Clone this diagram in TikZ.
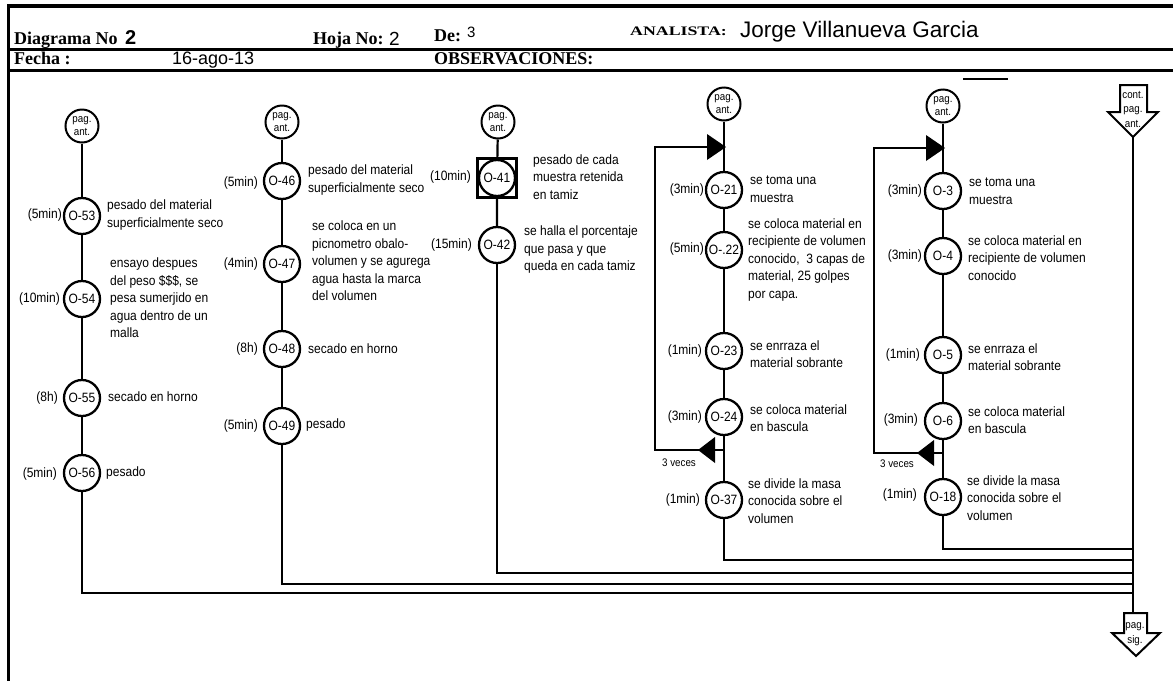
\documentclass[tikz,border=0pt]{standalone}
\usepackage{fontspec}
\setmainfont{Liberation Sans}
\newfontfamily\serifhdr{Liberation Serif}
\newfontfamily\nsans[FakeStretch=0.89]{Liberation Sans}
\begin{document}
\begin{tikzpicture}[x=1pt,y=-1pt,
  flow/.style={line width=2.2pt},
  op/.style={circle,draw,line width=2.3pt,minimum size=36pt,inner sep=0pt,font=\nsans\fontsize{13.5}{13.5}\selectfont},
  pg/.style={circle,draw,line width=2pt,minimum size=33pt,inner sep=0pt,align=center,font=\nsans\fontsize{11}{12.5}\selectfont},
  tm/.style={anchor=east,inner sep=0pt,font=\nsans\fontsize{13.5}{14}\selectfont},
  ds/.style={anchor=west,inner sep=0pt,align=left,font=\nsans\fontsize{13.5}{17.5}\selectfont},
  hd/.style={anchor=base west,inner sep=0pt,font=\serifhdr\bfseries\fontsize{18}{18}\selectfont},
  hv/.style={anchor=base west,inner sep=0pt},
  veces/.style={inner sep=0pt,font=\nsans\fontsize{11}{11}\selectfont},
  tri/.style={fill=black},
  blockarrow/.style={draw,line width=2pt,fill=white,line join=miter},
  btxt/.style={inner sep=0pt,align=center,font=\nsans\fontsize{11}{14.5}\selectfont}]
\useasboundingbox (0,0) rectangle (1173,681);

% ---------- header form ----------
\draw[line width=4pt] (7,5.5) -- (1173,5.5);
\draw[line width=3pt] (8.5,4) -- (8.5,681);
\draw[line width=2.5pt] (8.5,49.5) -- (1173,49.5);
\draw[line width=3.5pt] (8.5,70.5) -- (1173,70.5);
\draw[line width=1.5pt] (963,79) -- (1008,79);

\node[hd] (hdiag) at (14,44) {Diagrama No};
\node[hv,font=\bfseries\fontsize{20}{20}\selectfont] (ndiag) at (125,44) {2};
\node[hd] (hhoja) at (313,44) {Hoja No:};
\node[hv,font=\fontsize{19}{19}\selectfont] (nhoja) at (389,45) {2};
\node[hd] (hde) at (434,41) {De:};
\node[hv,font=\fontsize{15}{15}\selectfont] (nde) at (467,37) {3};
\node[hv,font=\serifhdr\bfseries\fontsize{13}{13}\selectfont] (hanal) at (630,35) {\scalebox{1.37}[1]{ANALISTA:}};
\node[hv,font=\fontsize{22.5}{22.5}\selectfont] (nanal) at (740,37) {Jorge Villanueva Garcia};
\node[hd] (hfecha) at (14,64) {Fecha :};
\node[hv,font=\fontsize{18}{18}\selectfont] (nfecha) at (172,64) {16-ago-13};
\node[hd] (hobs) at (434,64) {OBSERVACIONES:};

% ---------- column 1 ----------
\node[pg] (p1) at (82,126) {pag.\\ant.};
\node[op] (o53) at (82,216) {O-53};
\node[op] (o54) at (82,299) {O-54};
\node[op] (o55) at (82,398) {O-55};
\node[op] (o56) at (82,473) {O-56};
\node[tm] (t53) at (62,215) {(5min)};
\node[tm] (t54) at (60,299) {(10min)};
\node[tm] (t55) at (58,398) {(8h)};
\node[tm] (t56) at (57,474) {(5min)};
\node[ds] (d53) at (107,215) {pesado del material\\superficialmente seco};
\node[ds] (d54) at (110,298) {ensayo despues\\del peso \$\$\$, se\\pesa sumerjido en\\agua dentro de un\\malla};
\node[ds] (d55) at (108,397) {secado en horno};
\node[ds] (d56) at (106,473) {pesado};
\draw[flow] (p1) -- (o53) -- (o54) -- (o55) -- (o56);

% ---------- column 2 ----------
\node[pg] (p2) at (282,122) {pag.\\ant.};
\node[op] (o46) at (282,181) {O-46};
\node[op] (o47) at (282,264) {O-47};
\node[op] (o48) at (282,349) {O-48};
\node[op] (o49) at (282,426) {O-49};
\node[tm] (t46) at (258,183) {(5min)};
\node[tm] (t47) at (258,264) {(4min)};
\node[tm] (t48) at (258,349) {(8h)};
\node[tm] (t49) at (258,426) {(5min)};
\node[ds] (d46) at (308,180) {pesado del material\\superficialmente seco};
\node[ds] (d47) at (312,261) {se coloca en un\\picnometro obalo-\\volumen y se agurega\\agua hasta la marca\\del volumen};
\node[ds] (d48) at (308,349) {secado en horno};
\node[ds] (d49) at (306,425) {pesado};
\draw[flow] (p2) -- (o46) -- (o47) -- (o48) -- (o49);

% ---------- column 3 ----------
\node[pg] (p3) at (498,122) {pag.\\ant.};
\node[op] (o41) at (497,178) {O-41};
\node[draw,line width=2.2pt,minimum size=39pt,inner sep=0pt] (b41) at (o41) {};
\node[op] (o42) at (497,245) {O-42};
\node[tm] (t41) at (471,177) {(10min)};
\node[tm] (t42) at (472,245) {(15min)};
\node[ds] (d41) at (533,177) {pesado de cada\\muestra retenida\\en tamiz};
\node[ds] (d42) at (524,250) {se halla el porcentaje\\que pasa y que\\queda en cada tamiz};
\draw[flow] (p3) -- (b41) -- (o42);

% ---------- column 4 ----------
\node[pg] (p4) at (724,104) {pag.\\ant.};
\node[op] (o21) at (724,190) {O-21};
\node[op] (o22) at (724,250) {O-.22};
\node[op] (o23) at (724,351) {O-23};
\node[op] (o24) at (724,417) {O-24};
\node[op] (o37) at (724,500) {O-37};
\node[tm] (t21) at (704,190) {(3min)};
\node[tm] (t22) at (704,249) {(5min)};
\node[tm] (t23) at (702,351) {(1min)};
\node[tm] (t24) at (702,417) {(3min)};
\node[tm] (t37) at (700,500) {(1min)};
\node[ds] (d21) at (750,189) {se toma una\\muestra};
\node[ds] (d22) at (748,260) {se coloca material en\\recipiente de volumen\\conocido,\ \ 3 capas de\\material, 25 golpes\\por capa.};
\node[ds] (d23) at (750,354) {se enrraza el\\material sobrante};
\node[ds] (d24) at (750,418) {se coloca material\\en bascula};
\node[ds] (d37) at (748,501) {se divide la masa\\conocida sobre el\\volumen};
\draw[flow] (p4) -- (o21) -- (o22) -- (o23) -- (o24) -- (o37);
% repetition loop
\coordinate (l4t) at (724,147);
\coordinate (l4b) at (724,450);
\coordinate (l4c) at (655,147);
\draw[flow] (l4b) -| (l4c) -- (l4t);
\fill[tri] ([xshift=2pt]l4t) -- ++(-19,13) -- ++(0,-26) -- cycle;
\fill[tri] ([xshift=-26pt]l4b) -- ++(17,-13) -- ++(0,26) -- cycle;
\node[veces] (v4) at (679,463) {3 veces};

% ---------- column 5 ----------
\node[pg] (p5) at (943,106) {pag.\\ant.};
\node[op] (o3) at (943,191) {O-3};
\node[op] (o4) at (943,256) {O-4};
\node[op] (o5) at (943,355) {O-5};
\node[op] (o6) at (943,421) {O-6};
\node[op] (o18) at (943,497) {O-18};
\node[tm] (t3) at (922,191) {(3min)};
\node[tm] (t4) at (922,256) {(3min)};
\node[tm] (t5) at (920,355) {(1min)};
\node[tm] (t6) at (918,420) {(3min)};
\node[tm] (t18) at (917,495) {(1min)};
\node[ds] (d3) at (969,191) {se toma una\\muestra};
\node[ds] (d4) at (968,258) {se coloca material en\\recipiente de volumen\\conocido};
\node[ds] (d5) at (968,357) {se enrraza el\\material sobrante};
\node[ds] (d6) at (968,420) {se coloca material\\en bascula};
\node[ds] (d18) at (967,498) {se divide la masa\\conocida sobre el\\volumen};
\draw[flow] (p5) -- (o3) -- (o4) -- (o5) -- (o6) -- (o18);
\coordinate (l5t) at (943,148);
\coordinate (l5b) at (943,453);
\coordinate (l5c) at (874,148);
\draw[flow] (l5b) -| (l5c) -- (l5t);
\fill[tri] ([xshift=2pt]l5t) -- ++(-19,13) -- ++(0,-26) -- cycle;
\fill[tri] ([xshift=-26pt]l5b) -- ++(17,-13) -- ++(0,26) -- cycle;
\node[veces] (v5) at (897,464) {3 veces};

% ---------- page connectors and collecting line ----------
\coordinate (ctip) at (1133,137);
\coordinate (stop) at (1133,613);
\draw[blockarrow] (1120,85) -- (1147,85) -- (1147,112) -- (1158,112) -- (ctip) -- (1108,112) -- (1120,112) -- cycle;
\node[btxt] (cont) at (1133,109) {cont.\\pag.\\ant.};
\draw[blockarrow] (1124,613) -- (1147,613) -- (1147,633) -- (1160,633) -- (1136,656) -- (1112,633) -- (1124,633) -- cycle;
\node[btxt] (sig) at (1135,634) {pag.\\sig.};
\draw[flow] (ctip) -- (stop);
\coordinate (j5) at (1133,549);
\coordinate (j4) at (1133,560);
\coordinate (j3) at (1133,573);
\coordinate (j2) at (1133,584);
\coordinate (j1) at (1133,593);
\draw[flow] (o18.south) |- (j5);
\draw[flow] (o37.south) |- (j4);
\draw[flow] (o42.south) |- (j3);
\draw[flow] (o49.south) |- (j2);
\draw[flow] (o56.south) |- (j1);
\end{tikzpicture}
\end{document}
